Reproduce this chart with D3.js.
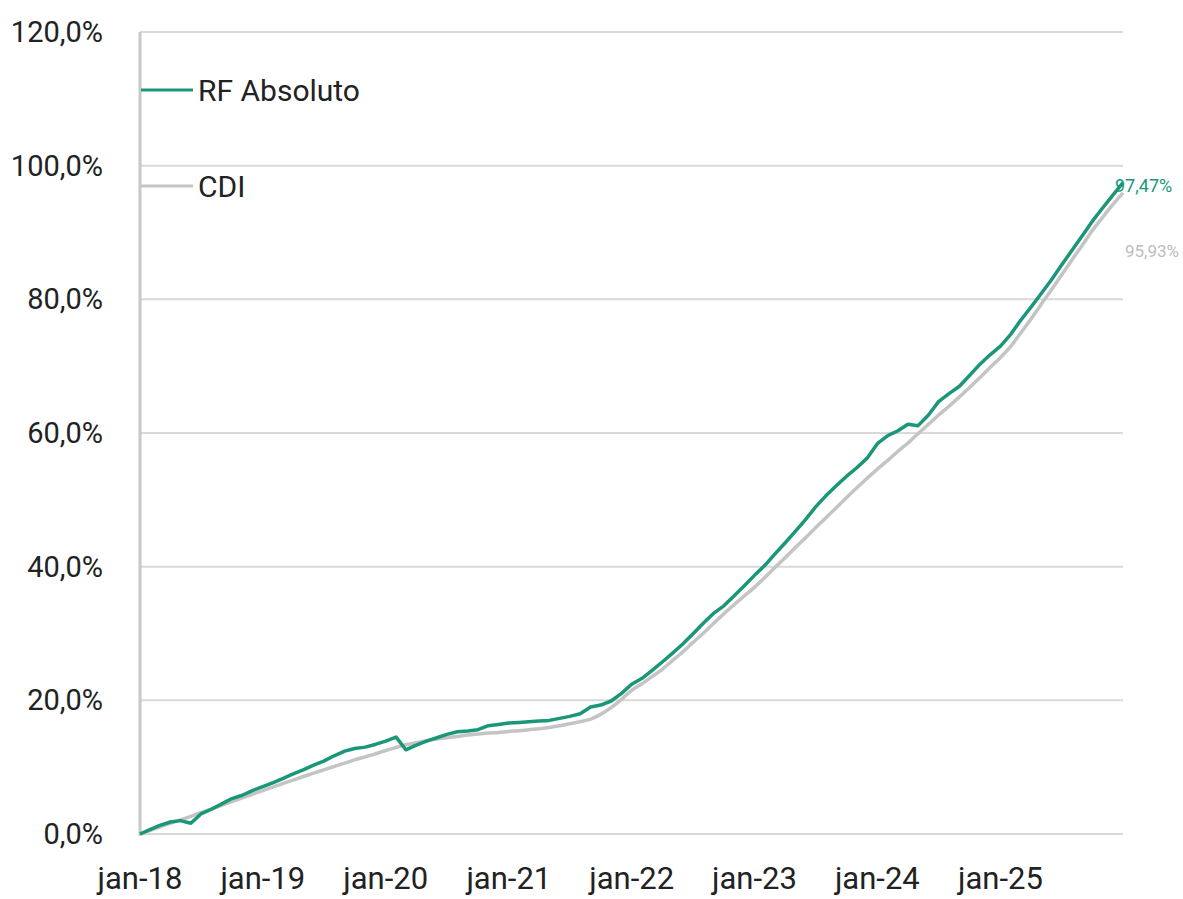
<!DOCTYPE html>
<html>
<head>
<meta charset="utf-8">
<script src="https://cdn.jsdelivr.net/npm/d3@7"></script>
<style>
  html, body { margin: 0; padding: 0; background: #fff; }
  svg { display: block; font-family: Roboto, "Noto Sans", sans-serif; }
</style>
</head>
<body>
<svg id="chart" width="1183" height="899"></svg>
<script>
// Series values (cumulative %, first day of each month, jan-18 ... dec-25, plus last day)
const rfAbsoluto = [
  0.0, 0.7, 1.3, 1.8, 2.0, 1.6, 3.0, 3.7, 4.5, 5.3, 5.8, 6.5,
  7.1, 7.7, 8.3, 9.0, 9.6, 10.3, 10.9, 11.7, 12.4, 12.8, 13.0, 13.4,
  13.9, 14.5, 12.6, 13.3, 13.9, 14.4, 14.9, 15.3, 15.4, 15.6, 16.2, 16.4,
  16.6, 16.7, 16.8, 16.9, 17.0, 17.3, 17.6, 18.0, 19.0, 19.3, 19.9, 21.0,
  22.4, 23.3, 24.4, 25.7, 27.0, 28.4, 29.9, 31.5, 33.0, 34.1, 35.6, 37.1,
  38.7, 40.2, 41.8, 43.5, 45.2, 47.0, 48.9, 50.6, 52.1, 53.5, 54.8, 56.2,
  58.4, 59.6, 60.3, 61.3, 61.1, 62.7, 64.7, 65.9, 67.0, 68.6, 70.3, 71.7,
  73.0, 74.8, 76.8, 78.8, 80.8, 82.9, 85.1, 87.3, 89.5, 91.7, 93.7, 95.6,
  97.47
];
const cdi = [
  0.0, 0.55, 1.05, 1.6, 2.1, 2.65, 3.2, 3.75, 4.3, 4.85, 5.4, 5.95,
  6.5, 7.05, 7.55, 8.05, 8.6, 9.1, 9.6, 10.1, 10.6, 11.1, 11.55, 12.0,
  12.5, 12.95, 13.35, 13.65, 13.95, 14.2, 14.4, 14.6, 14.8, 14.95, 15.1, 15.2,
  15.35, 15.45, 15.6, 15.75, 15.95, 16.2, 16.5, 16.8, 17.2, 17.9, 18.9, 20.1,
  21.5, 22.5, 23.5, 24.6, 25.9, 27.2, 28.6, 30.0, 31.5, 32.9, 34.3, 35.6,
  36.9, 38.4, 39.8, 41.3, 42.8, 44.3, 45.8, 47.3, 48.8, 50.3, 51.8, 53.2,
  54.6, 55.9, 57.2, 58.5, 59.9, 61.3, 62.7, 64.0, 65.4, 66.8, 68.3, 69.8,
  71.3, 73.0, 74.9, 77.0, 79.2, 81.4, 83.6, 85.9, 88.1, 90.3, 92.3, 94.2,
  95.93
];
const seriesNames = ['RF Absoluto', 'CDI'];
const yTicks = [0, 20, 40, 60, 80, 100, 120];
const xTickYears = [2018, 2019, 2020, 2021, 2022, 2023, 2024, 2025];

const dates = d3.timeMonth.range(new Date(2018, 0, 1), new Date(2026, 0, 1));
dates.push(new Date(2025, 11, 31));

const colors = { rf: '#1a9678', cdi: '#c4c4c4', grid: '#d9d9d9', axis: '#c8c8c8', text: '#222' };
const fmtPct1 = d => d3.format('.1f')(d).replace('.', ',') + '%';
const fmtPct2 = d => d3.format('.2f')(d).replace('.', ',') + '%';

const svg = d3.select('#chart');
const x = d3.scaleTime().domain([new Date(2018, 0, 1), new Date(2025, 11, 31)]).range([140, 1123]);
const y = d3.scaleLinear().domain([0, 120]).range([834, 32]);

// gridlines
svg.append('g')
  .selectAll('line')
  .data(yTicks)
  .enter()
  .append('line')
  .attr('x1', x.range()[0])
  .attr('x2', x.range()[1])
  .attr('y1', d => y(d))
  .attr('y2', d => y(d))
  .attr('stroke', colors.grid)
  .attr('stroke-width', 2);

// left axis line
svg.append('line')
  .attr('x1', x.range()[0]).attr('x2', x.range()[0])
  .attr('y1', y(120)).attr('y2', y(0) + 2)
  .attr('stroke', colors.axis)
  .attr('stroke-width', 3);

// y labels
svg.append('g')
  .selectAll('text')
  .data(yTicks)
  .enter()
  .append('text')
  .attr('x', 103)
  .attr('y', d => y(d))
  .attr('dy', '0.35em')
  .attr('text-anchor', 'end')
  .style('font-size', '29px')
  .style('fill', colors.text)
  .text(fmtPct1);

// x labels
svg.append('g')
  .selectAll('text')
  .data(xTickYears)
  .enter()
  .append('text')
  .attr('x', d => x(new Date(d, 0, 1)))
  .attr('y', 889)
  .attr('text-anchor', 'middle')
  .style('font-size', '31px')
  .style('fill', colors.text)
  .text(d => 'jan-' + String(d).slice(2));

// lines
const line = d3.line()
  .x((d, i) => x(dates[i]))
  .y(d => y(d));

svg.append('path')
  .datum(cdi)
  .attr('fill', 'none')
  .attr('stroke', colors.cdi)
  .attr('stroke-width', 3.5)
  .attr('stroke-linejoin', 'round')
  .attr('d', line.curve(d3.curveMonotoneX));

svg.append('path')
  .datum(rfAbsoluto)
  .attr('fill', 'none')
  .attr('stroke', colors.rf)
  .attr('stroke-width', 3.5)
  .attr('stroke-linejoin', 'round')
  .attr('d', line.curve(d3.curveLinear));

// end labels
const last = dates.length - 1;
svg.append('text')
  .attr('x', x(dates[last]) - 8)
  .attr('y', y(rfAbsoluto[last]) + 3)
  .attr('dy', '0.35em')
  .style('font-size', '18px')
  .style('fill', colors.rf)
  .text(fmtPct2(rfAbsoluto[last]));

svg.append('text')
  .attr('x', x(dates[last]) + 2)
  .attr('y', y(cdi[last]) + 58)
  .attr('dy', '0.35em')
  .style('font-size', '17px')
  .style('fill', '#bdbdbd')
  .text(fmtPct2(cdi[last]));

// legend
const legend = svg.append('g').attr('class', 'legend');
const legendItems = legend.selectAll('g')
  .data(seriesNames)
  .enter()
  .append('g')
  .attr('transform', (d, i) => `translate(141, ${90 + i * 96})`);

legendItems.append('line')
  .attr('x1', 0).attr('x2', 52)
  .attr('stroke', (d, i) => i === 0 ? colors.rf : colors.cdi)
  .attr('stroke-width', 3);

legendItems.append('text')
  .attr('x', 57)
  .attr('dy', '0.35em')
  .style('font-size', '30px')
  .style('fill', colors.text)
  .text(d => d);
</script>
</body>
</html>
